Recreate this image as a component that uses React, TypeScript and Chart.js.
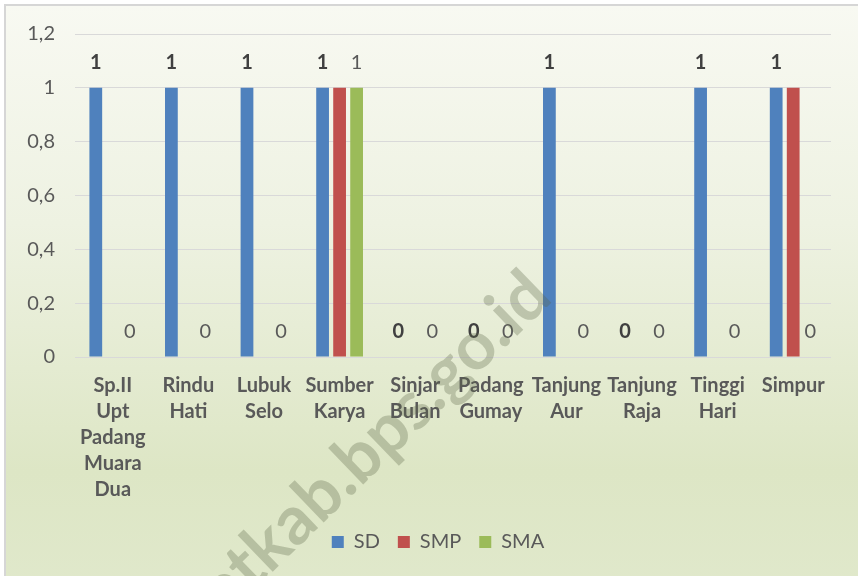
import React, { useEffect, useRef } from "react";
import { Chart, registerables } from "chart.js";

Chart.register(...registerables);

const categories: string[][] = [
  ["Sp.II", "Upt", "Padang", "Muara", "Dua"],
  ["Rindu", "Hati"],
  ["Lubuk", "Selo"],
  ["Sumber", "Karya"],
  ["Sinjar", "Bulan"],
  ["Padang", "Gumay"],
  ["Tanjung", "Aur"],
  ["Tanjung", "Raja"],
  ["Tinggi", "Hari"],
  ["Simpur"],
];
const seriesNames = ["SD", "SMP", "SMA"];
const sdValues = [1, 1, 1, 1, 0, 0, 1, 0, 1, 1];
const smpValues = [0, 0, 0, 1, 0, 0, 0, 0, 0, 1];
const smaValues = [0, 0, 0, 1, 0, 0, 0, 0, 0, 0];
const seriesColors = ["#4f81bd", "#c0504d", "#9bbb59"];
const seriesShowLabel = [true, false, true];
const seriesLabelBold = [true, false, false];
const yMin = 0;
const yMax = 1.2;
const yStep = 0.2;
const watermarkPrefix = "laha";
const watermarkVisible = "tkab.bps.go.id";

const FONT = "Lato";

const formatTick = (v: number | string) => {
  const n = Math.round(Number(v) * 10) / 10;
  return String(n).replace(".", ",");
};

const dataLabelPlugin = {
  id: "dataLabels",
  afterDatasetsDraw(chart: any) {
    const ctx = chart.ctx;
    chart.data.datasets.forEach((ds: any, i: number) => {
      if (!seriesShowLabel[i]) return;
      const meta = chart.getDatasetMeta(i);
      meta.data.forEach((bar: any, j: number) => {
        const v = ds.data[j];
        ctx.save();
        ctx.font = (seriesLabelBold[i] ? "bold " : "") + "20px " + FONT;
        ctx.fillStyle = seriesLabelBold[i] ? "#404040" : "#595959";
        ctx.textAlign = "center";
        ctx.textBaseline = "middle";
        ctx.fillText(String(v), bar.x, bar.y - 25);
        ctx.restore();
      });
    });
  },
};

const watermarkPlugin = {
  id: "watermark",
  afterDraw(chart: any) {
    const ctx = chart.ctx;
    ctx.save();
    ctx.font = "bold 68px " + FONT;
    ctx.fillStyle = "rgba(90,100,70,0.3)";
    ctx.textBaseline = "middle";
    ctx.textAlign = "left";
    ctx.translate(388, 430);
    ctx.rotate((-44 * Math.PI) / 180);
    const wp = ctx.measureText(watermarkPrefix).width;
    const wv = ctx.measureText(watermarkVisible).width;
    ctx.fillText(watermarkPrefix + watermarkVisible, -wv / 2 - wp, 0);
    ctx.restore();
  },
};

export default function App() {
  const canvasRef = useRef<HTMLCanvasElement | null>(null);

  useEffect(() => {
    const canvas = canvasRef.current;
    if (!canvas) return;
    const values = [sdValues, smpValues, smaValues];
    const chart = new Chart(canvas, {
      type: "bar",
      data: {
        labels: categories,
        datasets: seriesNames.map((name, i) => ({
          label: name,
          data: values[i],
          backgroundColor: seriesColors[i],
          borderWidth: 0,
          categoryPercentage: 0.675,
          barPercentage: 0.75,
        })),
      },
      options: {
        responsive: false,
        animation: false,
        layout: { padding: { top: 34, left: 18, right: 0, bottom: 14 } },
        plugins: {
          tooltip: { enabled: false },
          legend: {
            position: "bottom",
            labels: {
              boxWidth: 12,
              boxHeight: 12,
              padding: 18,
              color: "#595959",
              font: { family: FONT, size: 20 },
            },
          },
        },
        scales: {
          x: {
            grid: { display: false, drawTicks: false },
            border: { display: false },
            ticks: {
              color: "#595959",
              font: { family: FONT, size: 20, weight: "bold", lineHeight: 1.3 },
              padding: 16,
              maxRotation: 0,
              autoSkip: false,
            },
            afterFit: (s: any) => {
              s.height = 157;
            },
          },
          y: {
            min: yMin,
            max: yMax,
            grid: { color: "#d9d9d9", drawTicks: false },
            border: { display: false },
            ticks: {
              stepSize: yStep,
              color: "#595959",
              font: { family: FONT, size: 20 },
              padding: 20,
              callback: (v: any) => formatTick(v),
            },
            afterFit: (s: any) => {
              s.width = 57;
            },
          },
          yRightSpacer: {
            type: "linear",
            position: "right",
            min: yMin,
            max: yMax,
            grid: { display: false, drawTicks: false },
            border: { display: false },
            ticks: { display: false },
            afterFit: (s: any) => {
              s.width = 27;
            },
          },
        },
      },
      plugins: [dataLabelPlugin, watermarkPlugin],
    } as any);
    return () => chart.destroy();
  }, []);

  return (
    <div
      style={{
        position: "fixed",
        left: 0,
        top: 0,
        width: 858,
        height: 576,
        overflow: "hidden",
        background: "#ffffff",
      }}
    >
      <div
        style={{
          position: "absolute",
          left: 4,
          top: 4,
          width: 900,
          height: 620,
          border: "2px solid #d6d6d6",
          background:
            "linear-gradient(to bottom, #f8f9f2 0%, #eef2e2 35%, #dde6c5 75%, #e1e9cd 100%)",
        }}
      />
      <canvas
        ref={canvasRef}
        width={858}
        height={576}
        style={{ position: "absolute", left: 0, top: 0, width: 858, height: 576 }}
      />
    </div>
  );
}
